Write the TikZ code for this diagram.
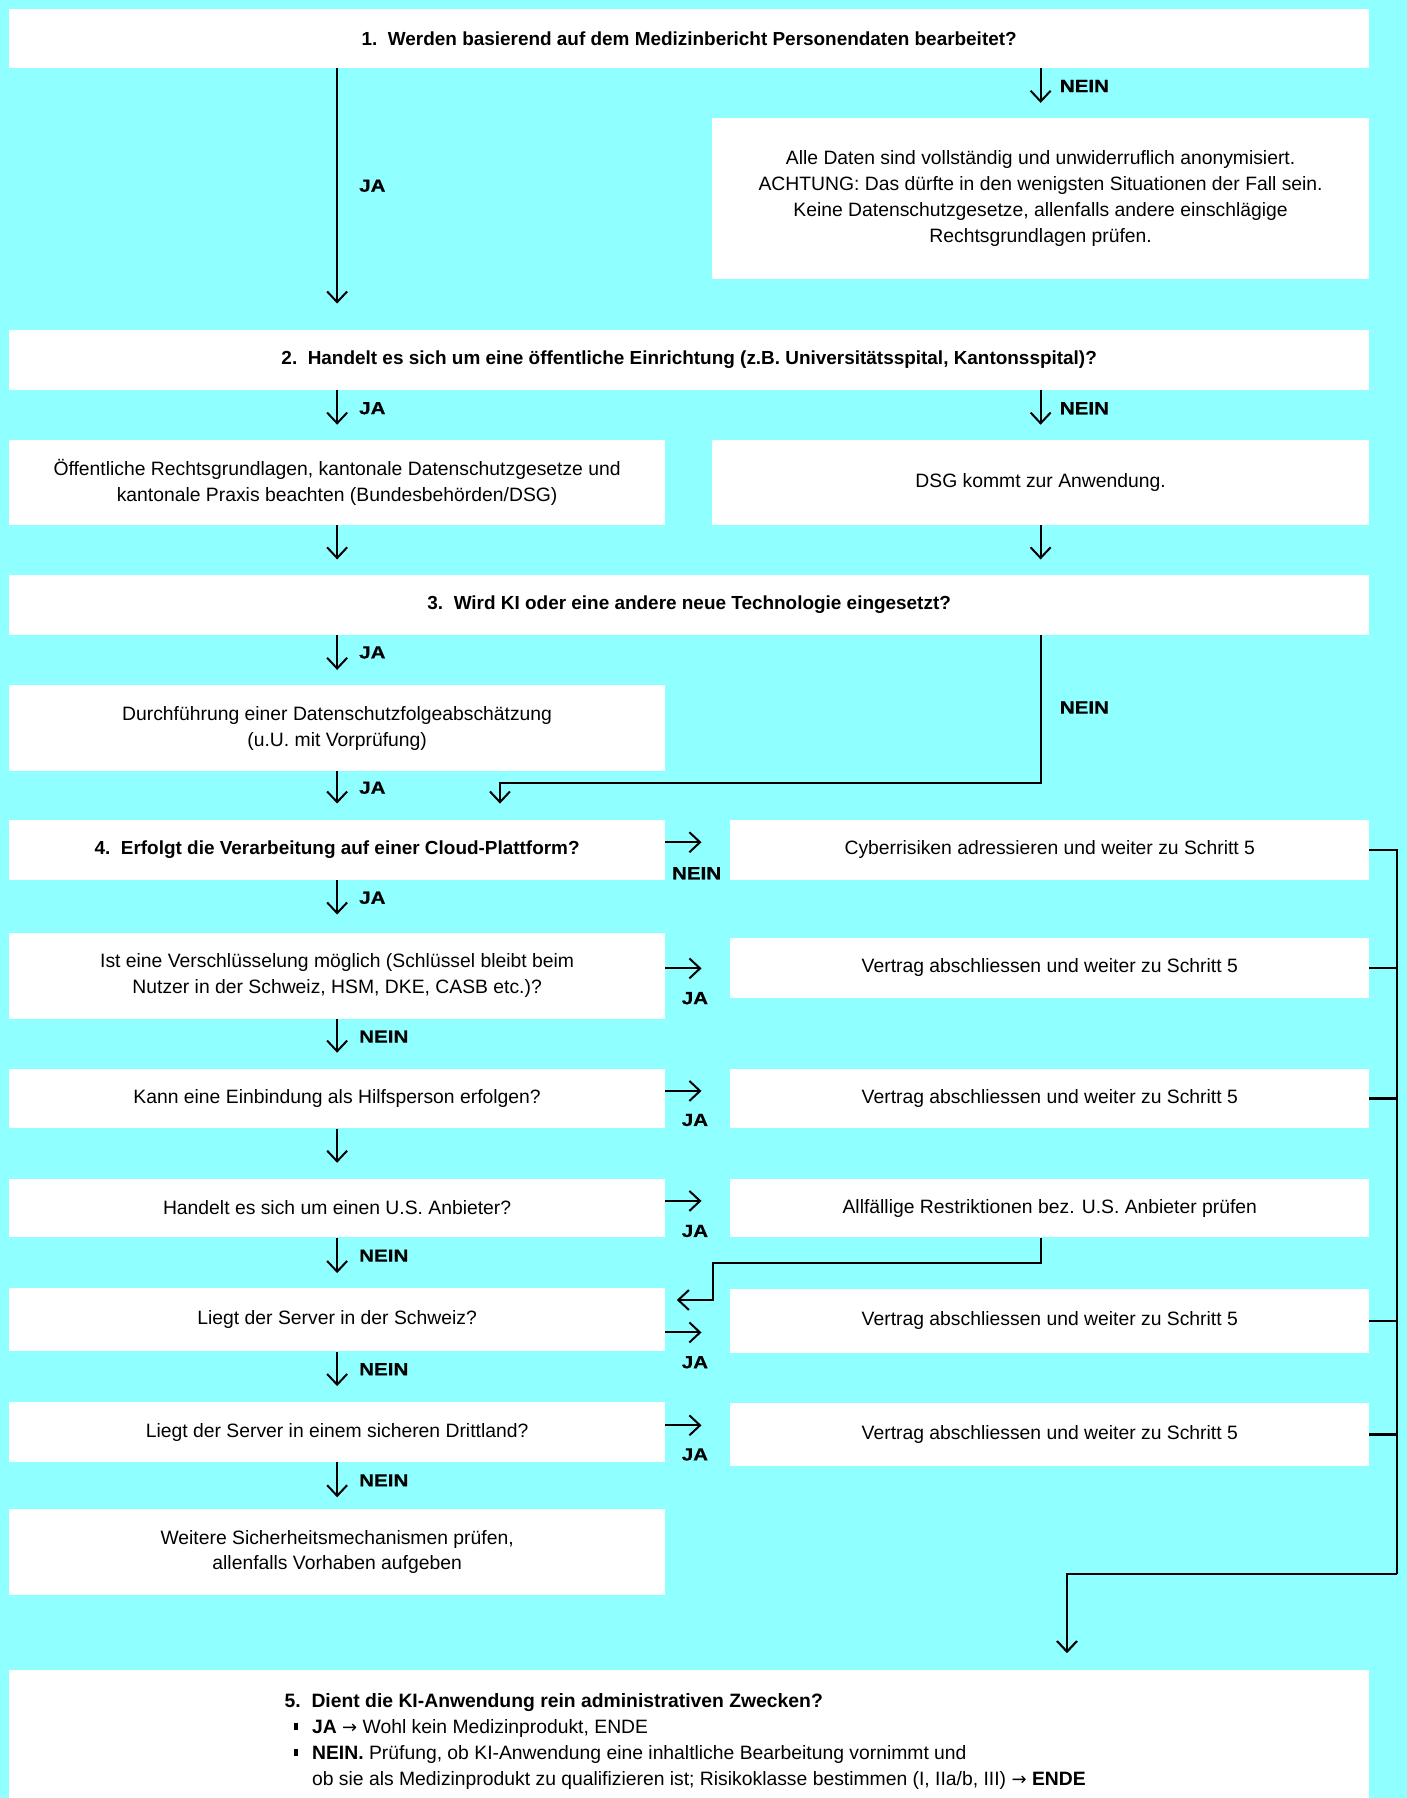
\documentclass[tikz,border=0pt]{standalone}
\usepackage{fontspec}
\setmainfont{Liberation Sans}
\newfontfamily\lblfamily{Liberation Sans}[FakeStretch=1.17, FakeBold=0.6]
\newfontfamily\arrowfamily{DejaVu Sans}
\usetikzlibrary{arrows.meta,calc}
\definecolor{bg}{RGB}{143,255,255}
\newcommand\bodyfont{\fontsize{14.5pt}{19.4pt}\selectfont}
\newcommand\headfont{\fontsize{14.2pt}{19.4pt}\selectfont\bfseries}
\newcommand\lblfont{\lblfamily\fontsize{13.2pt}{15pt}\selectfont\bfseries}
\newcommand\sqbullet{\rule[2.5pt]{3.2pt}{5.2pt}}
\newcommand\rarr{{\arrowfamily\fontsize{13.5pt}{15pt}\selectfont →}}

\begin{document}
\begin{tikzpicture}[x=0.86pt,y=-0.86pt,
  box/.style={fill=white, draw=none, inner sep=0pt, align=center, font=\bodyfont},
  head/.style={box, font=\headfont},
  wh/.style 2 args={minimum width=#1*0.86pt, minimum height=#2*0.86pt},
  arr/.style={draw, line width=1.5pt, -{Straight Barb[length=8pt,width=15pt]}},
  conn/.style={draw, line width=1.6pt, line join=miter},
  lbl/.style={font=\lblfont, inner sep=0pt},
]
% background and page size
\fill[bg] (0,0) rectangle (1227,1568);
\useasboundingbox (0,0) rectangle (1227,1568);

% ---- step 1 ----
\node[head, wh={1186}{51}] (q1) at (601,33.5) {1.\ \ Werden basierend auf dem Medizinbericht Personendaten bearbeitet?};
\node[box, wh={573}{140}] (anon) at (907.5,173) {Alle Daten sind vollständig und unwiderruflich anonymisiert.\\ACHTUNG: Das dürfte in den wenigsten Situationen der Fall sein.\\Keine Datenschutzgesetze, allenfalls andere einschlägige\\Rechtsgrundlagen prüfen.};

% ---- step 2 ----
\node[head, wh={1186}{52}] (q2) at (601,314) {2.\ \ Handelt es sich um eine öffentliche Einrichtung (z.B. Universitätsspital, Kantonsspital)?};
\node[box, wh={572}{74}] (pub) at (294,421) {Öffentliche Rechtsgrundlagen, kantonale Datenschutzgesetze und\\kantonale Praxis beachten (Bundesbehörden/DSG)};
\node[box, wh={573}{74}] (dsg) at (907.5,421) {DSG kommt zur Anwendung.};

% ---- step 3 ----
\node[head, wh={1186}{52}] (q3) at (601,527.5) {3.\ \ Wird KI oder eine andere neue Technologie eingesetzt?};
\node[box, wh={572}{75}] (dsfa) at (294,635) {Durchführung einer Datenschutzfolgeabschätzung\\(u.U. mit Vorprüfung)};

% ---- step 4 ----
\node[head, wh={572}{52}] (q4) at (294,741) {4.\ \ Erfolgt die Verarbeitung auf einer Cloud-Plattform?};
\node[box, wh={557}{52}] (cyber) at (915.5,741) {Cyberrisiken adressieren und weiter zu Schritt 5};
\node[box, wh={572}{75}] (enc) at (294,851) {Ist eine Verschlüsselung möglich (Schlüssel bleibt beim\\Nutzer in der Schweiz, HSM, DKE, CASB etc.)?};
\node[box, wh={557}{52}] (v1) at (915.5,844) {Vertrag abschliessen und weiter zu Schritt 5};
\node[box, wh={572}{52}] (hilf) at (294,958) {Kann eine Einbindung als Hilfsperson erfolgen?};
\node[box, wh={557}{52}] (v2) at (915.5,958) {Vertrag abschliessen und weiter zu Schritt 5};
\node[box, wh={572}{51}] (us) at (294,1053.5) {Handelt es sich um einen U.S. Anbieter?};
\node[box, wh={557}{51}] (restr) at (915.5,1053.5) {Allfällige Restriktionen bez. U.S. Anbieter prüfen};
\node[box, wh={572}{55}] (ch) at (294,1151) {Liegt der Server in der Schweiz?};
\node[box, wh={557}{55}] (v3) at (915.5,1152) {Vertrag abschliessen und weiter zu Schritt 5};
\node[box, wh={572}{52}] (dritt) at (294,1249) {Liegt der Server in einem sicheren Drittland?};
\node[box, wh={557}{55}] (v4) at (915.5,1251) {Vertrag abschliessen und weiter zu Schritt 5};
\node[box, wh={572}{75}] (weit) at (294,1353.5) {Weitere Sicherheitsmechanismen prüfen,\\allenfalls Vorhaben aufgeben};

% ---- step 5 ----
\node[box, wh={1186}{112}] (q5) at (601,1512.5) {};
\node[font=\bodyfont, align=left, inner sep=0pt, anchor=west] (q5t) at (248,1518.5) {%
\textbf{5.\ \ Dient die KI-Anwendung rein administrativen Zwecken?}\\
\makebox[20.6pt][l]{\hspace{7pt}\sqbullet}\textbf{JA} \rarr\ Wohl kein Medizinprodukt, ENDE\\
\makebox[20.6pt][l]{\hspace{7pt}\sqbullet}\textbf{NEIN.} Prüfung, ob KI-Anwendung eine inhaltliche Bearbeitung vornimmt und\\
\hspace*{20.6pt}ob sie als Medizinprodukt zu qualifizieren ist; Risikoklasse bestimmen (I, IIa/b, III) \rarr\ \textbf{ENDE}};

% ---- vertical connectors ----
\draw[arr, shorten >=19.8pt] (q1.south -| pub.north) -- (q2.north -| pub.north);
\node[lbl, anchor=west] (l1) at (313,162) {JA};
\draw[arr, shorten >=11.2pt] (q1.south -| anon.north) -- (anon.north);
\node[lbl, anchor=west] (l2) at (924,75) {NEIN};

\draw[arr, shorten >=11.5pt] (q2.south -| pub.north) -- (pub.north);
\node[lbl, anchor=west] (l3) at (313,356) {JA};
\draw[arr, shorten >=11.5pt] (q2.south -| dsg.north) -- (dsg.north);
\node[lbl, anchor=west] (l4) at (924,356) {NEIN};

\draw[arr, shorten >=11.5pt] (pub.south) -- (q3.north -| pub.south);
\draw[arr, shorten >=11.5pt] (dsg.south) -- (q3.north -| dsg.south);

\draw[arr, shorten >=11.2pt] (q3.south -| dsfa.north) -- (dsfa.north);
\node[lbl, anchor=west] (l5) at (313,569) {JA};

\coordinate (nein3) at (436,682.5);
\draw[arr, shorten >=12pt] (q3.south -| dsg.south) |- (nein3) -- (nein3 |- q4.north);
\node[lbl, anchor=west] (l6) at (924,617) {NEIN};

\draw[arr, shorten >=12pt] (dsfa.south) -- (q4.north);
\node[lbl, anchor=west] (l7) at (313,687) {JA};
\draw[arr, shorten >=13.5pt] (q4.south) -- (enc.north);
\node[lbl, anchor=west] (l8) at (313,783) {JA};
\draw[arr, shorten >=11.8pt] (enc.south) -- (hilf.north);
\node[lbl, anchor=west] (l9) at (313,904) {NEIN};
\draw[arr, shorten >=11.8pt] (hilf.south) -- (us.north);
\draw[arr, shorten >=11.2pt] (us.south) -- (ch.north);
\node[lbl, anchor=west] (l10) at (313,1095) {NEIN};
\draw[arr, shorten >=12pt] (ch.south) -- (dritt.north);
\node[lbl, anchor=west] (l11) at (313,1194) {NEIN};
\draw[arr, shorten >=8.6pt] (dritt.south) -- (weit.north);
\node[lbl, anchor=west] (l12) at (313,1291) {NEIN};

% ---- side connectors ----
\draw[arr, shorten >=21.5pt] (q4.east |- 0,734.5) -- (cyber.west |- 0,734.5);
\node[lbl] (s1) at (607.5,761.5) {NEIN};
\draw[arr, shorten >=21.5pt] (enc.east |- 0,844.5) -- (v1.west |- 0,844.5);
\node[lbl] (s2) at (606,870.5) {JA};
\draw[arr, shorten >=21.5pt] (hilf.east |- 0,951.4) -- (v2.west |- 0,951.4);
\node[lbl] (s3) at (606,976.7) {JA};
\draw[arr, shorten >=21.5pt] (us.east |- 0,1047.3) -- (restr.west |- 0,1047.3);
\node[lbl] (s4) at (606,1073.5) {JA};
\draw[arr, shorten >=21.5pt] (ch.east |- 0,1162) -- (v3.west |- 0,1162);
\node[lbl] (s5) at (606,1188) {JA};
\draw[arr, shorten >=21.5pt] (dritt.east |- 0,1243) -- (v4.west |- 0,1243);
\node[lbl] (s6) at (606,1268.4) {JA};

% U.S. provider restrictions lead back to the server question
\coordinate (r1) at (622,1101.7);
\draw[arr, shorten >=8.6pt] ($(restr.south)+(-8,0)$) |- (r1) |- (ch.east |- 0,1133.7);

% ---- collector towards step 5 ----
\coordinate (bus) at (1218.5,1372.5);
\coordinate (busL) at (930.5,1372.5);
\draw[conn] (cyber.east) -| (bus);
\draw[conn] (v1.east) -- (v1.east -| bus);
\draw[conn] (v2.east) -- (v2.east -| bus);
\draw[conn] (v3.east) -- (v3.east -| bus);
\draw[conn] (v4.east) -- (v4.east -| bus);
\draw[arr, line width=1.6pt, shorten >=12.5pt] (bus) -- (busL) -- (busL |- q5.north);
\end{tikzpicture}
\end{document}
